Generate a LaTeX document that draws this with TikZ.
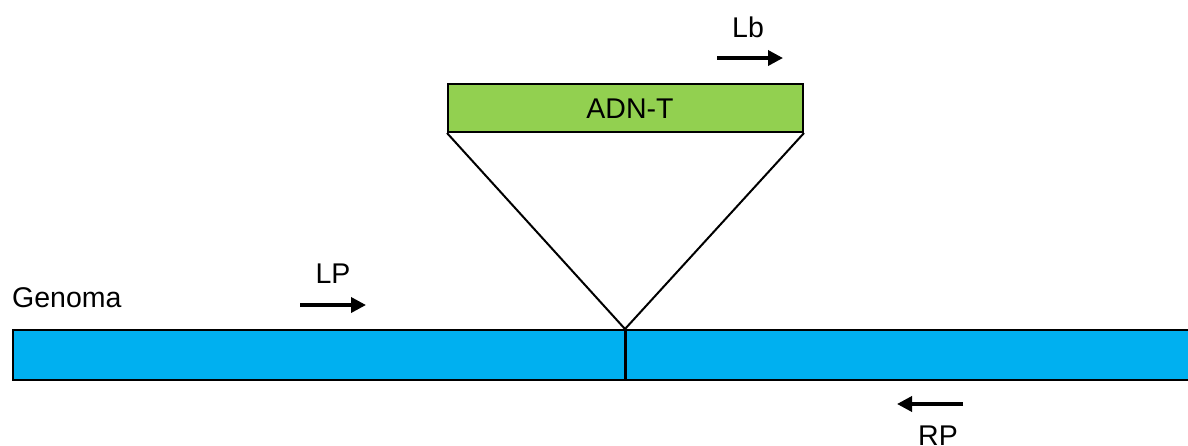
\documentclass[tikz,border=0pt]{standalone}
\usepackage{fontspec}
\setmainfont{Liberation Sans}
\usetikzlibrary{arrows.meta}
\definecolor{genblue}{HTML}{00B0F0}
\definecolor{tgreen}{HTML}{92D050}
\begin{document}
\begin{tikzpicture}[x=1pt,y=-1pt,
  lbl/.style={inner sep=0pt,font=\fontsize{28.5}{32}\selectfont},
  primer/.style={line width=3.5pt,-{Triangle[length=15pt,width=15pt]}},
  boxline/.style={draw=black,line width=2pt}]
\clip (0,0) rectangle (1188,445);
% genome bar
\node[boxline,fill=genblue,minimum width=1200pt,minimum height=50pt,inner sep=0pt,anchor=north west] (bar) at (12,329) {};
\coordinate (ins) at (625,329);
\coordinate (insb) at (625,379);
\draw[line width=3pt] (ins) -- (insb);
% T-DNA box
\node[boxline,fill=tgreen,minimum width=355pt,minimum height=48pt,inner sep=0pt,anchor=north west] (tdna) at (447,83) {};
\node[lbl,anchor=base] (tdnalbl) at (630,118) {ADN-T};
\draw[line width=2pt] (tdna.south west) -- (ins) -- (tdna.south east);
% labels
\node[lbl,anchor=base west] (genoma) at (12,307) {Genoma};
\node[lbl,anchor=base] (lp) at (333,283) {LP};
\node[lbl,anchor=base] (lb) at (748,37) {Lb};
\node[lbl,anchor=base] (rp) at (938,445) {RP};
% primer arrows
\coordinate (lps) at (300,305); \coordinate (lpe) at (366,305);
\coordinate (lbs) at (717,58);  \coordinate (lbe) at (783,58);
\coordinate (rps) at (963,404); \coordinate (rpe) at (897,404);
\draw[primer] (lps) -- (lpe);
\draw[primer] (lbs) -- (lbe);
\draw[primer] (rps) -- (rpe);
\end{tikzpicture}
\end{document}
